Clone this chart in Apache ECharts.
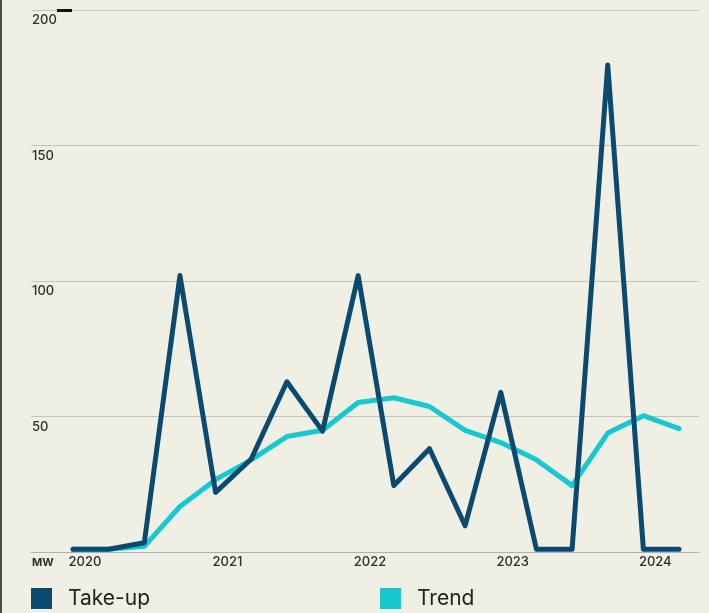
<!DOCTYPE html>
<html>
<head>
<meta charset="utf-8">
<script src="https://cdn.jsdelivr.net/npm/echarts@6/dist/echarts.min.js"></script>
<style>
html,body{margin:0;padding:0;background:#f0efe3;}
#chart{width:709px;height:613px;}
</style>
</head>
<body>
<div id="chart"></div>
<script>
// Quarters (x positions are the quarter index)
const quarters = ['2019 Q4','2020 Q1','2020 Q2','2020 Q3','2020 Q4','2021 Q1','2021 Q2','2021 Q3','2021 Q4',
  '2022 Q1','2022 Q2','2022 Q3','2022 Q4','2023 Q1','2023 Q2','2023 Q3','2023 Q4','2024 Q1'];
const takeUp = [1, 1, 3.4, 102, 22, 34.3, 62.8, 44.6, 102, 24.5, 38.1, 9.7, 58.9, 1, 1, 179.7, 1, 1];
const trend  = [1, 1, 2.1, 16.8, 26.7, 34, 42.6, 44.9, 55.2, 56.9, 53.7, 44.9, 40.4, 34, 24.5, 43.9, 50.3, 45.5];
const yearLabels = ['2020', '2021', '2022', '2023', '2024'];
const yearLabelPos = [1/3, 4 + 1/3, 8 + 1/3, 12 + 1/3, 16 + 1/3];
const yTicks = [0, 50, 100, 150, 200];

const toPairs = arr => arr.map((v, i) => [i, v]);

const chart = echarts.init(document.getElementById('chart'));
const FONT = 'Inter, "Noto Sans", sans-serif';
chart.setOption({
  backgroundColor: '#f0efe3',
  animation: false,
  grid: { left: 31, right: 10, top: 10, bottom: 61 },
  graphic: [
    { type: 'rect', z: 100, shape: { x: 0, y: 0, width: 2, height: 613 }, style: { fill: '#4a4a4a' } },
    { type: 'rect', z: 100, shape: { x: 57, y: 9, width: 15, height: 3 }, style: { fill: '#111' } }
  ],
  xAxis: {
    type: 'value',
    min: -1.178,
    max: 17.56,
    splitLine: { show: false },
    axisTick: { show: false },
    axisLine: { show: true, lineStyle: { color: '#aab0c2', width: 1 } },
    axisLabel: {
      customValues: yearLabelPos,
      formatter: v => {
        const i = yearLabelPos.findIndex(p => Math.abs(p - v) < 1e-6);
        return i >= 0 ? yearLabels[i] : '';
      },
      margin: 4,
      color: '#2e2e2e',
      fontFamily: FONT,
      fontSize: 13,
      fontWeight: 500
    }
  },
  yAxis: {
    type: 'value',
    min: 0,
    max: 200,
    interval: 50,
    axisLine: { show: false },
    axisTick: { show: false },
    splitLine: { show: true, lineStyle: { color: '#c2c2c0', width: 1 } },
    axisLabel: {
      inside: true,
      margin: 1,
      verticalAlign: 'top',
      align: 'left',
      padding: [4, 0, 0, 0],
      color: '#2e2e2e',
      fontFamily: FONT,
      fontSize: 13,
      fontWeight: 500,
      formatter: v => v === 0 ? '{mw|MW}' : String(v),
      rich: { mw: { fontFamily: FONT, fontSize: 11, fontWeight: 700, color: '#2e2e2e', padding: [1, 0, 0, 0] } }
    }
  },
  legend: [
    {
      data: ['Take-up'], left: 31, top: 588, padding: 0, itemWidth: 21, itemHeight: 21, icon: 'rect',
      textStyle: { fontFamily: FONT, fontSize: 21, color: '#222', padding: [0, 0, 0, 11] }
    },
    {
      data: ['Trend'], left: 380, top: 588, padding: 0, itemWidth: 21, itemHeight: 21, icon: 'rect',
      textStyle: { fontFamily: FONT, fontSize: 21, color: '#222', padding: [0, 0, 0, 11] }
    }
  ],
  series: [
    {
      name: 'Trend', type: 'line', data: toPairs(trend), showSymbol: false, symbol: 'none',
      color: '#16c8d2',
      lineStyle: { width: 5, color: '#16c8d2', cap: 'round', join: 'round' }, z: 2
    },
    {
      name: 'Take-up', type: 'line', data: toPairs(takeUp), showSymbol: false, symbol: 'none',
      color: '#0b4a70',
      lineStyle: { width: 5, color: '#0b4a70', cap: 'round', join: 'round' }, z: 3
    }
  ]
});
</script>
</body>
</html>
